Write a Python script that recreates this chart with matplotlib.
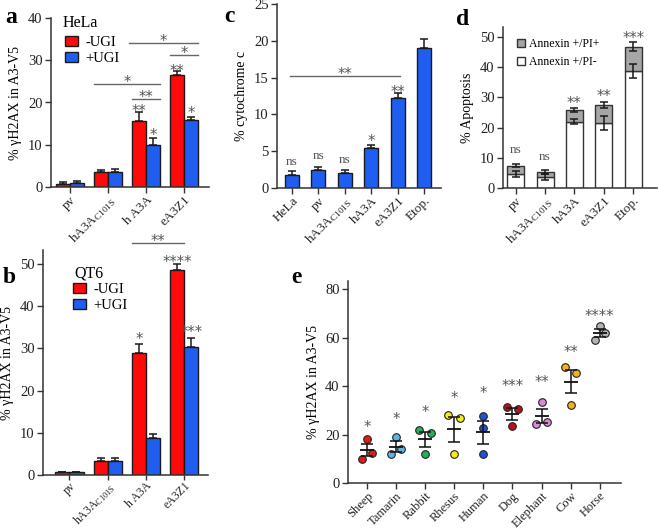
import numpy as np
import matplotlib
matplotlib.use("Agg")
import matplotlib.pyplot as plt
from matplotlib.patches import Patch

plt.rcParams['font.family'] = ['Liberation Serif', 'DejaVu Serif']
plt.rcParams['mathtext.fontset'] = 'custom'
plt.rcParams['mathtext.rm'] = 'Liberation Serif'
plt.rcParams['mathtext.it'] = 'Liberation Serif:italic'
plt.rcParams['axes.linewidth'] = 1.1
plt.rcParams['axes.edgecolor'] = '#333333'
plt.rcParams['xtick.color'] = '#333333'
plt.rcParams['ytick.color'] = '#333333'
plt.rcParams['xtick.labelcolor'] = '#222222'
plt.rcParams['ytick.labelcolor'] = '#222222'

W, H = 658, 530
RED = '#ff0a0a'
BLUE = '#1f5ef0'
GREY = '#a6a6a6'
EDGE = '#1a1a1a'
STAR = '#555555'

# ---- data ----
# a: HeLa
a_groups = ['pv', 'hA3A$_{\\mathrm{C101S}}$', 'h A3A', 'eA3Z1']
a_minus = [0.6, 3.5, 15.7, 26.6]
a_minus_err = [0.5, 0.5, 2.0, 0.8]
a_plus = [0.9, 3.6, 9.9, 15.8]
a_plus_err = [0.5, 0.6, 1.8, 0.7]
a_minus_sig = ['', '', '**', '**']
a_minus_sig_y = [0, 0, 18.8, 28.4]
a_plus_sig = ['', '', '*', '*']
a_plus_sig_y = [0, 0, 13.1, 18.4]
a_brackets = [(0.63, 2.37, 24.3, '*'), (1.63, 2.37, 20.8, '**'),
              (1.55, 3.37, 34.0, '*'), (2.63, 3.37, 31.2, '*')]

# b: QT6
b_groups = ['pv', 'hA3A$_{\\mathrm{C101S}}$', 'h A3A', 'eA3Z1']
b_minus = [0.8, 3.2, 28.9, 48.5]
b_minus_err = [0.0, 0.8, 2.2, 1.4]
b_plus = [0.8, 3.4, 8.8, 30.4]
b_plus_err = [0.0, 0.7, 1.0, 2.1]
b_minus_sig = ['', '', '*', '****']
b_minus_sig_y = [0, 0, 33.2, 51.3]
b_plus_sig = ['', '', '', '***']
b_plus_sig_y = [0, 0, 0, 34.8]
b_brackets = [(1.63, 3.0, 54.9, '**')]

# c: cytochrome c
c_groups = ['HeLa', 'pv', 'hA3A$_{\\mathrm{C101S}}$', 'hA3A', 'eA3Z1', 'Etop.']
c_vals = [1.7, 2.45, 2.0, 5.5, 12.2, 19.0]
c_err = [0.6, 0.45, 0.5, 0.35, 0.7, 1.2]
c_sig = ['ns', 'ns', 'ns', '*', '**', '']
c_sig_y = [3.5, 4.4, 3.8, 6.85, 13.6, 0]
c_brackets = [(-0.08, 4.1, 15.15, '**')]

# d: apoptosis
d_groups = ['pv', 'hA3A$_{\\mathrm{C101S}}$', 'hA3A', 'eA3Z1', 'Etop.']
d_neg = [4.5, 3.8, 22.0, 21.5, 38.6]
d_neg_err = [1.0, 1.0, 0.9, 2.4, 2.3]
d_total = [7.4, 5.3, 25.8, 27.6, 46.7]
d_total_err = [0.6, 0.5, 0.6, 1.0, 1.5]
d_sig = ['ns', 'ns', '**', '**', '***']
d_sig_y = [12.4, 10.3, 29.3, 31.6, 50.8]

# e: species
e_species = ['Sheep', 'Tamarin', 'Rabbit', 'Rhesus', 'Human', 'Dog', 'Elephant', 'Cow', 'Horse']
e_points = [[10.0, 18.3, 12.3], [12.0, 19.1, 14.0], [21.9, 12.0, 20.5],
            [28.0, 12.0, 26.7], [27.7, 22.8, 12.0], [31.2, 23.6, 30.5],
            [24.5, 33.4, 25.2], [47.8, 32.3, 45.2], [58.8, 64.7, 61.8]]
e_colors = ['#e41a1a', '#5eb3e4', '#1fb35c', '#f7ea1c', '#1c55d6',
            '#b5141c', '#d98ad9', '#f2b322', '#b3b3b3']
e_spread = [0.17, 0.17, 0.2, 0.2, 0.0, 0.2, 0.2, 0.2, 0.17]
e_sig = ['*', '*', '*', '*', '*', '***', '**', '**', '****']
e_sig_y = [24.7, 27.8, 30.9, 36.7, 38.8, 41.4, 43.4, 55.5, 70.6]


fig = plt.figure(figsize=(W / 100, H / 100), dpi=100)


def make_ax(x0, x1, ytop, ybot):
    ax = fig.add_axes([x0 / W, 1 - ybot / H, (x1 - x0) / W, (ybot - ytop) / H])
    ax.spines['top'].set_visible(False)
    ax.spines['right'].set_visible(False)
    ax.tick_params(direction='out', length=4, width=1, labelsize=10.5, pad=2)
    ax.tick_params(axis='x', pad=1)
    return ax


STAR_FS = 10.5


def sig(ax, x, y, s):
    # y is where the glyphs should sit (visual centre)
    if '*' in s:
        ax.annotate(s, (x, y), xytext=(0, -0.6 * STAR_FS), textcoords='offset points',
                    ha='center', va='baseline', fontsize=STAR_FS, color=STAR,
                    family='DejaVu Sans', annotation_clip=False)
    else:
        ax.annotate(s, (x, y), xytext=(0, -0.22 * 9.5), textcoords='offset points',
                    ha='center', va='baseline', fontsize=9.5, color=STAR,
                    annotation_clip=False)


def brackets(ax, items):
    for x0, x1, y, s in items:
        ax.plot([x0, x1], [y, y], color='#666666', lw=1, clip_on=False)
        ax.annotate(s, ((x0 + x1) / 2, y), xytext=(0, 4.5 - 0.6 * STAR_FS),
                    textcoords='offset points', ha='center', va='baseline',
                    fontsize=STAR_FS, color=STAR, family='DejaVu Sans',
                    annotation_clip=False)


def xlabels(ax, labels, fs=9.5):
    ax.set_xticks(range(len(labels)))
    ax.set_xticklabels(labels, rotation=45, ha='right', rotation_mode='anchor', fontsize=fs)


def grouped(ax, groups, minus, minus_err, plus, plus_err, w=0.37):
    x = np.arange(len(groups))
    ax.bar(x - w / 2, minus, w, color=RED, edgecolor=EDGE, lw=1, label='-UGI')
    ax.bar(x + w / 2, plus, w, color=BLUE, edgecolor=EDGE, lw=1, label='+UGI')
    ax.errorbar(x - w / 2, minus, yerr=[np.zeros(len(x)), minus_err], fmt='none',
                ecolor=EDGE, elinewidth=1.1, capsize=3.2, capthick=1.1)
    ax.errorbar(x + w / 2, plus, yerr=[np.zeros(len(x)), plus_err], fmt='none',
                ecolor=EDGE, elinewidth=1.1, capsize=3.2, capthick=1.1)
    return x


def ugi_legend(ax, x, y):
    handles = [Patch(facecolor=RED, edgecolor=EDGE, label='-UGI'),
               Patch(facecolor=BLUE, edgecolor=EDGE, label='+UGI')]
    ax.legend(handles=handles, loc='upper left', bbox_to_anchor=(x, y), frameon=False,
              fontsize=10.5, handlelength=0.9, handleheight=0.7, handletextpad=0.5,
              labelspacing=0.2, borderpad=0, borderaxespad=0)


# ---- panel a ----
ax = make_ax(51, 209, 18, 187)
x = grouped(ax, a_groups, a_minus, a_minus_err, a_plus, a_plus_err)
w = 0.37
for i in x:
    if a_minus_sig[i]:
        sig(ax, i - w / 2, a_minus_sig_y[i], a_minus_sig[i])
    if a_plus_sig[i]:
        sig(ax, i + w / 2, a_plus_sig_y[i], a_plus_sig[i])
brackets(ax, a_brackets)
ax.set_xlim(-0.5, 3.66)
ax.set_ylim(0, 40)
ax.set_yticks([0, 10, 20, 30, 40])
xlabels(ax, a_groups)
ax.set_ylabel('% γH2AX in A3-V5', fontsize=10, labelpad=4)
ax.text(0.076, 0.97, 'HeLa', transform=ax.transAxes, fontsize=11.5, va='center')
ugi_legend(ax, 0.09, 0.895)

# ---- panel b ----
ax = make_ax(43, 208, 250, 475)
x = grouped(ax, b_groups, b_minus, b_minus_err, b_plus, b_plus_err)
for i in x:
    if b_minus_sig[i]:
        sig(ax, i - w / 2, b_minus_sig_y[i], b_minus_sig[i])
    if b_plus_sig[i]:
        sig(ax, i + w / 2, b_plus_sig_y[i], b_plus_sig[i])
brackets(ax, b_brackets)
ax.set_xlim(-0.69, 3.62)
ax.set_ylim(0, 53.3)
ax.set_yticks([0, 10, 20, 30, 40, 50])
xlabels(ax, b_groups, fs=8.5)
ax.tick_params(axis='x', pad=0, length=3.5)
ax.set_ylabel('% γH2AX in A3-V5', fontsize=10, labelpad=4)
ax.text(0.19, 0.894, 'QT6', transform=ax.transAxes, fontsize=11.5, va='center')
ugi_legend(ax, 0.18, 0.855)

# ---- panel c ----
ax = make_ax(277, 441, 4, 188)
x = np.arange(len(c_groups))
ax.bar(x, c_vals, 0.53, color=BLUE, edgecolor=EDGE, lw=1)
ax.errorbar(x, c_vals, yerr=[np.zeros(len(x)), c_err], fmt='none',
            ecolor=EDGE, elinewidth=1.1, capsize=3.2, capthick=1.1)
for i in x:
    if c_sig[i]:
        sig(ax, i, c_sig_y[i], c_sig[i])
brackets(ax, c_brackets)
ax.set_xlim(-0.57, 5.64)
ax.set_ylim(0, 25)
ax.set_yticks([0, 5, 10, 15, 20, 25])
xlabels(ax, c_groups)
ax.set_ylabel('% cytochrome c', fontsize=10, labelpad=4)

# ---- panel d ----
ax = make_ax(503, 657, 27, 188)
x = np.arange(len(d_groups))
d_pos = np.array(d_total) - np.array(d_neg)
ax.bar(x, d_neg, 0.58, color='white', edgecolor='#333333', lw=1, label='Annexin +/PI-')
ax.bar(x, d_pos, 0.58, bottom=d_neg, color=GREY, edgecolor='#333333', lw=1, label='Annexin +/PI+')
ax.errorbar(x, d_neg, yerr=d_neg_err, fmt='none', ecolor=EDGE, elinewidth=1.1,
            capsize=3.2, capthick=1.1)
ax.errorbar(x, d_total, yerr=d_total_err, fmt='none', ecolor=EDGE, elinewidth=1.1,
            capsize=3.2, capthick=1.1)
for i in x:
    sig(ax, i, d_sig_y[i], d_sig[i])
ax.set_xlim(-0.43, 4.81)
ax.set_ylim(0, 53.3)
ax.set_yticks([0, 10, 20, 30, 40, 50])
xlabels(ax, d_groups)
ax.set_ylabel('% Apoptosis', fontsize=10, labelpad=4)
handles = [Patch(facecolor=GREY, edgecolor='#333333', label='Annexin +/PI+'),
           Patch(facecolor='white', edgecolor='#333333', label='Annexin +/PI-')]
ax.legend(handles=handles, loc='upper left', bbox_to_anchor=(0.09, 0.93), frameon=False,
          fontsize=8.5, handlelength=0.65, handleheight=0.65, handletextpad=0.4,
          labelspacing=0.5, borderpad=0, borderaxespad=0)

# ---- panel e ----
ax = make_ax(348, 621, 281, 483)
for i, (pts, col, sp) in enumerate(zip(e_points, e_colors, e_spread)):
    xs = i + np.array([-sp, 0, sp])
    ax.scatter(xs, pts, s=30, color=col, edgecolor='#222222', lw=0.8, zorder=3)
    m = np.mean(pts)
    sem = np.std(pts, ddof=1) / np.sqrt(len(pts))
    ax.hlines(m, i - 0.24, i + 0.24, color='#111111', lw=1.3, zorder=4)
    ax.errorbar(i, m, yerr=sem, fmt='none', ecolor='#111111', elinewidth=1.1,
                capsize=4.5, capthick=1.1, zorder=4)
    sig(ax, i, e_sig_y[i], e_sig[i])
ax.set_xlim(-0.65, 8.73)
ax.set_ylim(0, 83.3)
ax.set_yticks([0, 20, 40, 60, 80])
xlabels(ax, e_species, fs=9)
ax.set_ylabel('% γH2AX in A3-V5', fontsize=10, labelpad=4)

# panel letters
for s, px, py in [('a', 5, 23), ('b', 3, 283), ('c', 224, 22), ('d', 456, 25), ('e', 291, 283)]:
    fig.text(px / W, 1 - py / H, s, fontsize=17, fontweight='bold', va='baseline')

fig.savefig('out.png', dpi=100)
